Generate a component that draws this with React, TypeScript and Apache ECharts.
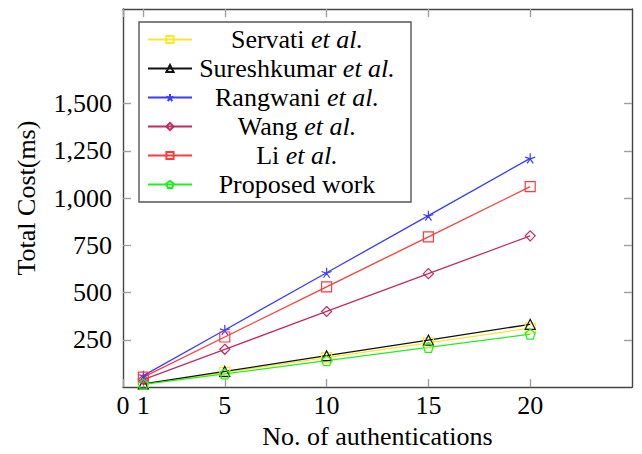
import React, { useEffect, useRef } from "react";
import * as echarts from "echarts";

const xs = [1, 5, 10, 15, 20];
const xTickValues = [0, 1, 5, 10, 15, 20];
const yTickValues = [250, 500, 750, 1000, 1250, 1500];

const servati = [15.5, 78, 156, 234, 312];
const sureshkumar = [16.5, 83, 166, 249, 332];
const rangwani = [60.5, 302, 605, 907, 1210];
const wang = [40, 200, 400, 600, 800];
const li = [53, 265, 530, 795, 1060];
const proposed = [14, 70, 140, 210, 280];

const seriesNames = [
  "Servati et al.",
  "Sureshkumar et al.",
  "Rangwani et al.",
  "Wang et al.",
  "Li et al.",
  "Proposed work",
];
const seriesValues = [servati, sureshkumar, rangwani, wang, li, proposed];
const seriesColors = ["#f7e82a", "#111111", "#3b3bff", "#c02c62", "#ff3b3b", "#22ee22"];

const STAR = "path://M0,-1L0,0M0.951,-0.309L0,0M0.588,0.809L0,0M-0.588,0.809L0,0M-0.951,-0.309L0,0";
const PENTAGON = "path://M0,-1L0.951,-0.309L0.588,0.809L-0.588,0.809L-0.951,-0.309Z";
const seriesSymbols = ["rect", "triangle", STAR, "diamond", "rect", PENTAGON];

const FONT = "Liberation Serif";
const FS = 26;

export default function App() {
  const ref = useRef<HTMLDivElement>(null);
  useEffect(() => {
    if (!ref.current) return;
    const chart = echarts.init(ref.current, undefined, { renderer: "svg" });
    const axisLine = { show: true, onZero: false, lineStyle: { color: "#444", width: 1.4 } };
    const tick = (vals: number[]) => ({
      show: true,
      inside: true,
      length: 8,
      customValues: vals,
      lineStyle: { color: "#a0a0a0", width: 1.4 },
    });
    chart.setOption({
      animation: false,
      textStyle: { fontFamily: FONT },
      grid: { left: 123, right: 10, top: 9, bottom: 63, containLabel: false },
      xAxis: [
        {
          type: "value",
          min: 0,
          max: 25,
          position: "bottom",
          axisLine,
          axisTick: tick(xTickValues),
          splitLine: { show: false },
          axisLabel: {
            customValues: xTickValues,
            color: "#000",
            fontSize: FS,
            fontFamily: FONT,
            margin: 5,
          },
          name: "No. of authentications",
          nameLocation: "middle",
          nameGap: 31,
          nameTextStyle: { color: "#000", fontSize: FS, fontFamily: FONT },
        },
        {
          type: "value",
          min: 0,
          max: 25,
          position: "top",
          axisLine,
          axisTick: tick(xTickValues),
          axisLabel: { show: false },
          splitLine: { show: false },
        },
      ],
      yAxis: [
        {
          type: "value",
          min: 0,
          max: 2000,
          position: "left",
          axisLine,
          axisTick: tick(yTickValues),
          splitLine: { show: false },
          axisLabel: {
            customValues: yTickValues,
            color: "#000",
            fontSize: FS,
            fontFamily: FONT,
            margin: 11,
            formatter: (v: number) => v.toLocaleString("en-US"),
          },
          name: "Total Cost(ms)",
          nameLocation: "middle",
          nameGap: 84,
          nameTextStyle: { color: "#000", fontSize: FS, fontFamily: FONT },
        },
        {
          type: "value",
          min: 0,
          max: 2000,
          position: "right",
          axisLine,
          axisTick: tick(yTickValues),
          axisLabel: { show: false },
          splitLine: { show: false },
        },
      ],
      legend: {
        data: seriesNames,
        orient: "vertical",
        left: 139,
        top: 22,
        padding: [3, 14, 3, 8],
        itemGap: 0,
        itemWidth: 44,
        itemHeight: 9,
        backgroundColor: "#fff",
        borderColor: "#555",
        borderWidth: 1.4,
        selectedMode: false,
        textStyle: {
          width: 200,
          height: 29,
          lineHeight: 29,
          color: "#000",
          fontFamily: FONT,
          fontSize: FS,
          rich: {
            n: { fontFamily: FONT, fontSize: FS, color: "#000", align: "center", lineHeight: 29 },
            i: {
              fontFamily: FONT,
              fontSize: FS,
              fontStyle: "italic",
              color: "#000",
              align: "center",
              lineHeight: 29,
            },
          },
        },
        formatter: (name: string) => {
          const idx = name.indexOf("et al.");
          if (idx < 0) return `{n|${name}}`;
          return `{n|${name.slice(0, idx)}}{i|et al.}`;
        },
      },
      series: seriesNames.map((name, k) => ({
        name,
        type: "line",
        xAxisIndex: 0,
        yAxisIndex: 0,
        data: xs.map((x, i) => [x, seriesValues[k][i]]),
        symbol: seriesSymbols[k],
        symbolSize: 10,
        showSymbol: true,
        silent: true,
        lineStyle: { color: seriesColors[k], width: 1.3 },
        itemStyle: {
          color: "rgba(255,255,255,0)",
          borderColor: seriesColors[k],
          borderWidth: 1.2,
        },
        emphasis: { disabled: true },
      })),
    });
    return () => chart.dispose();
  }, []);
  return <div ref={ref} style={{ width: 642, height: 454, margin: -8 }} />;
}
